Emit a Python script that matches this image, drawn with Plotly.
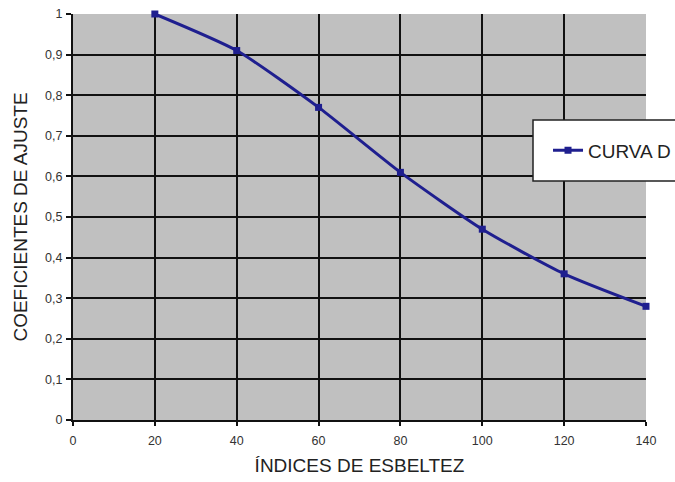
import plotly.graph_objects as go

# Slenderness index vs adjustment coefficient, curve D
esbeltez = [20, 40, 60, 80, 100, 120, 140]
coef_d = [1.0, 0.91, 0.77, 0.61, 0.47, 0.36, 0.28]

x_ticks = [0, 20, 40, 60, 80, 100, 120, 140]
y_ticks = [0, 0.1, 0.2, 0.3, 0.4, 0.5, 0.6, 0.7, 0.8, 0.9, 1]
y_labels = ["0", "0,1", "0,2", "0,3", "0,4", "0,5", "0,6", "0,7", "0,8", "0,9", "1"]

fig = go.Figure()
fig.add_trace(go.Scatter(
    x=esbeltez, y=coef_d, name="CURVA D",
    mode="lines+markers",
    line=dict(color="#1f1f8f", width=3, shape="spline", smoothing=0.6),
    marker=dict(symbol="square", size=7, color="#1f1f8f"),
    cliponaxis=False,
))

axis_font = dict(family="Liberation Sans, Arial, sans-serif", size=12.5, color="#333333")
title_font = dict(family="Liberation Sans, Arial, sans-serif", size=19, color="#222222")

# Legend frame: white box open on the right, running off the page edge
fig.add_shape(
    type="path", xref="paper", yref="paper",
    path="M 1.3,0.739 L 0.8028,0.739 L 0.8028,0.5887 L 1.3,0.5887",
    fillcolor="white", line=dict(color="#222222", width=1.5), layer="above",
)

fig.update_layout(
    width=675, height=482,
    margin=dict(l=73, r=29, t=14, b=62, autoexpand=False),
    paper_bgcolor="white",
    plot_bgcolor="#c0c0c0",
    font=dict(family="Liberation Sans, Arial, sans-serif", color="#222222"),
    showlegend=True,
    legend=dict(
        x=0.829, y=0.664, xanchor="left", yanchor="middle",
        bgcolor="rgba(0,0,0,0)", borderwidth=0,
        font=title_font,
    ),
    xaxis=dict(
        range=[0, 140], tickvals=x_ticks, ticktext=[str(v) for v in x_ticks],
        showgrid=False, zeroline=False, automargin=False,
        showline=True, linecolor="#111111", linewidth=2,
        ticks="outside", ticklen=4, tickwidth=1.5, tickcolor="#111111",
        tickfont=axis_font, ticklabelstandoff=4,
        minor=dict(tickvals=x_ticks[1:-1], showgrid=True, gridcolor="#111111", gridwidth=1.5),
        title=dict(text="ÍNDICES DE ESBELTEZ", font=title_font, standoff=12),
    ),
    yaxis=dict(
        range=[0, 1], tickvals=y_ticks, ticktext=y_labels,
        showgrid=False, zeroline=False, automargin=False,
        showline=True, linecolor="#111111", linewidth=2,
        ticks="outside", ticklen=5, tickwidth=1.5, tickcolor="#111111",
        tickfont=axis_font, ticklabelstandoff=1,
        minor=dict(tickvals=y_ticks[1:-1], showgrid=True, gridcolor="#111111", gridwidth=1.5),
        title=dict(text="COEFICIENTES DE AJUSTE", font=title_font, standoff=12),
    ),
)

fig.write_html("out.html")
